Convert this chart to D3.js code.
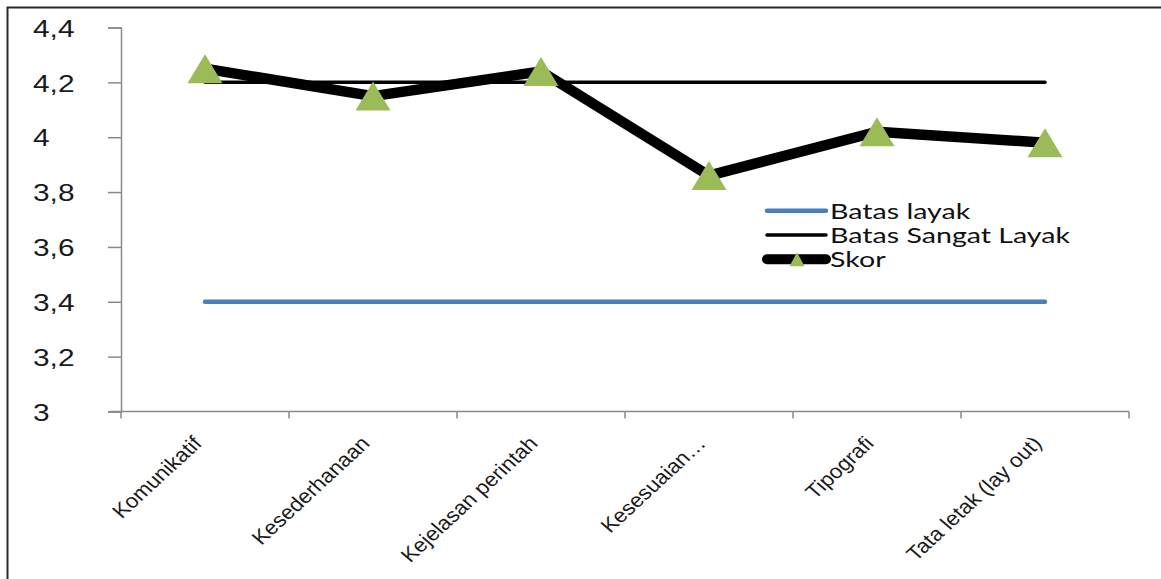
<!DOCTYPE html>
<html>
<head>
<meta charset="utf-8">
<script src="https://cdn.jsdelivr.net/npm/d3@7"></script>
<style>
  html, body { margin: 0; padding: 0; background: #fff; }
  svg { display: block; }
</style>
</head>
<body>
<svg id="chart" width="1161" height="579"></svg>
<script>
// ---- data ----
const categories = ["Komunikatif", "Kesederhanaan", "Kejelasan perintah", "Kesesuaian…", "Tipografi", "Tata letak (lay out)"];
const skor = [4.25, 4.15, 4.24, 3.86, 4.02, 3.98];
const batasLayak = [3.4, 3.4, 3.4, 3.4, 3.4, 3.4];
const batasSangatLayak = [4.2, 4.2, 4.2, 4.2, 4.2, 4.2];
const yTicks = [3, 3.2, 3.4, 3.6, 3.8, 4, 4.2, 4.4];
const yTickLabels = ["3", "3,2", "3,4", "3,6", "3,8", "4", "4,2", "4,4"];
const seriesNames = ["Batas layak", "Batas Sangat Layak", "Skor"];

// ---- layout ----
const svg = d3.select("#chart");
const plot = { left: 121, right: 1129, top: 27.5, bottom: 411.5 };
const axisColor = "#8a8a8a";

svg.append("rect").attr("x", 0).attr("y", 0).attr("width", 1161).attr("height", 579).attr("fill", "#fff");
svg.append("rect").attr("x", 7.5).attr("y", 7.5).attr("width", 1200).attr("height", 620)
  .attr("fill", "none").attr("stroke", "#2a2a2a").attr("stroke-width", 2);

const x = d3.scaleBand().domain(categories).range([plot.left, plot.right]).padding(0);
const cx = c => x(c) + x.bandwidth() / 2;
const y = d3.scaleLinear().domain([3, 4.4]).range([plot.bottom, plot.top]);

// y axis
const yAxis = d3.axisLeft(y).tickValues(yTicks).tickSize(13).tickFormat("");
const gy = svg.append("g").attr("transform", `translate(${plot.left},0)`).call(yAxis);
gy.select(".domain").attr("stroke", axisColor).attr("stroke-width", 1.5);
gy.selectAll(".tick line").attr("stroke", axisColor).attr("stroke-width", 1.5);

svg.append("g").selectAll("text").data(yTicks).join("text")
  .attr("transform", (d) => `translate(33,${y(d) + 1.5}) scale(1.3,1)`)
  .attr("dominant-baseline", "central")
  .attr("font-family", "'Liberation Sans', Arial, sans-serif")
  .attr("font-size", 23)
  .attr("fill", "#1a1a1a")
  .text((d, i) => yTickLabels[i]);

// x axis (ticks at band boundaries)
const xTickPos = categories.map(c => x(c)).concat([plot.right]);
const gx = svg.append("g");
gx.append("line").attr("x1", plot.left - 11).attr("x2", plot.right).attr("y1", plot.bottom).attr("y2", plot.bottom)
  .attr("stroke", axisColor).attr("stroke-width", 1.5);
gx.selectAll("line.tk").data(xTickPos).join("line").attr("class", "tk")
  .attr("x1", d => d).attr("x2", d => d).attr("y1", plot.bottom).attr("y2", plot.bottom + 7)
  .attr("stroke", axisColor).attr("stroke-width", 1.5);

svg.append("g").selectAll("text").data(categories).join("text")
  .attr("transform", d => `translate(${cx(d) - 2},${plot.bottom + 33}) scale(1.12,1) rotate(-46)`)
  .attr("text-anchor", "end")
  .attr("font-family", "'Liberation Sans', Arial, sans-serif")
  .attr("font-size", 20)
  .attr("fill", "#1a1a1a")
  .text(d => d);

// series
const line = d3.line().x((d, i) => cx(categories[i])).y(d => y(d));

svg.append("path").datum(batasLayak).attr("d", line)
  .attr("fill", "none").attr("stroke", "#4a7ebb").attr("stroke-width", 4.5).attr("stroke-linecap", "round");
svg.append("path").datum(batasSangatLayak).attr("d", line)
  .attr("fill", "none").attr("stroke", "#000").attr("stroke-width", 3.5).attr("stroke-linecap", "round");
svg.append("path").datum(skor).attr("d", line)
  .attr("fill", "none").attr("stroke", "#000").attr("stroke-width", 10.5).attr("stroke-linejoin", "round").attr("stroke-linecap", "round");

const tri = (w, h) => `M0,${-h / 2}L${w / 2},${h / 2}L${-w / 2},${h / 2}Z`;
svg.append("g").selectAll("path").data(skor).join("path")
  .attr("transform", (d, i) => `translate(${cx(categories[i])},${y(d)})`)
  .attr("d", tri(35, 29))
  .attr("fill", "#9bbb59");

// legend
const legend = svg.append("g");
const legY = [210.7, 235, 259.3];
const legStyles = [
  { stroke: "#4a7ebb", width: 4.5 },
  { stroke: "#000", width: 3.5 },
  { stroke: "#000", width: 10 }
];
seriesNames.forEach((name, i) => {
  legend.append("line").attr("x1", 767).attr("x2", 826).attr("y1", legY[i]).attr("y2", legY[i])
    .attr("stroke", legStyles[i].stroke).attr("stroke-width", legStyles[i].width).attr("stroke-linecap", "round");
  if (i === 2) {
    legend.append("path").attr("transform", `translate(797,${legY[i]})`).attr("d", tri(15, 14)).attr("fill", "#9bbb59");
  }
  legend.append("text")
    .attr("transform", `translate(830,${legY[i] + 8}) scale(1.3,1)`)
    .attr("font-family", "Lato, 'Open Sans', sans-serif")
    .attr("font-size", 22)
    .attr("fill", "#111")
    .text(name);
});
</script>
</body>
</html>
